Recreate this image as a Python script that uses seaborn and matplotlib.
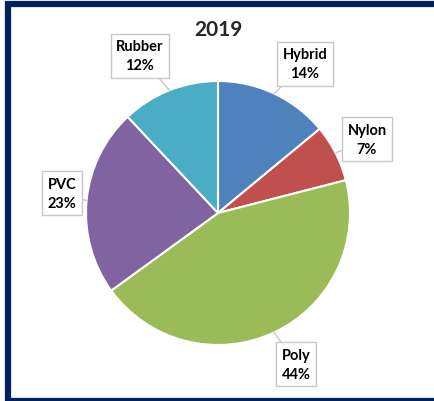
import numpy as np
import matplotlib
matplotlib.use("Agg")
import matplotlib.pyplot as plt
from matplotlib.patches import Rectangle
import seaborn as sns

TITLE = "2019"
categories = ["Hybrid", "Nylon", "Poly", "PVC", "Rubber"]
shares = [14, 7, 44, 23, 12]
colors = ["#4F81BD", "#C0504D", "#9BBB59", "#8064A2", "#4BACC6"]

# label layout: angle nudge (deg) and distance from centre (in radii)
label_nudge = [-5, -0.6, 2.1, -1.9, 4.8]
label_dist = [1.31, 1.26, 1.29, 1.19, 1.33]

sns.set_theme(style="white")
plt.rcParams["font.family"] = ["Lato", "DejaVu Sans"]

fig = plt.figure(figsize=(4.35, 4.02), dpi=100)
R = 132
cx, cy = 218, 214
ax = fig.add_axes([(cx - R) / 435, (402 - cy - R) / 402, 2 * R / 435, 2 * R / 402])

palette = sns.color_palette(colors)
wedges, _ = ax.pie(shares, colors=palette, startangle=90, counterclock=False,
                   radius=1, wedgeprops=dict(edgecolor="white", linewidth=1.5))
ax.set_xlim(-1, 1)
ax.set_ylim(-1, 1)
ax.set_axis_off()

for w, name, pct, nudge, dist in zip(wedges, categories, shares, label_nudge, label_dist):
    mid = np.deg2rad((w.theta1 + w.theta2) / 2)
    lab = mid + np.deg2rad(nudge)
    ax.annotate(f"{name}\n{pct}%",
                xy=(np.cos(mid), np.sin(mid)),
                xytext=(dist * np.cos(lab), dist * np.sin(lab)),
                ha="center", va="center", fontsize=10.5, fontweight="bold",
                linespacing=1.45, color="black",
                bbox=dict(boxstyle="square,pad=0.38", fc="white", ec="#c8c8c8", lw=1),
                arrowprops=dict(arrowstyle="-", color="#c8c8c8", lw=1,
                                shrinkA=0, shrinkB=0),
                annotation_clip=False)

fig.text(218 / 435, 1 - 30 / 402, TITLE, ha="center", va="center",
         fontsize=15, fontweight="bold")

fig.patches.append(Rectangle((8 / 435, 0.5 / 402), 1.1, (402 - 5) / 402 - 0.5 / 402,
                             transform=fig.transFigure, fill=False,
                             ec="#002060", lw=4.5, zorder=10))

fig.savefig("out.png", dpi=100)
